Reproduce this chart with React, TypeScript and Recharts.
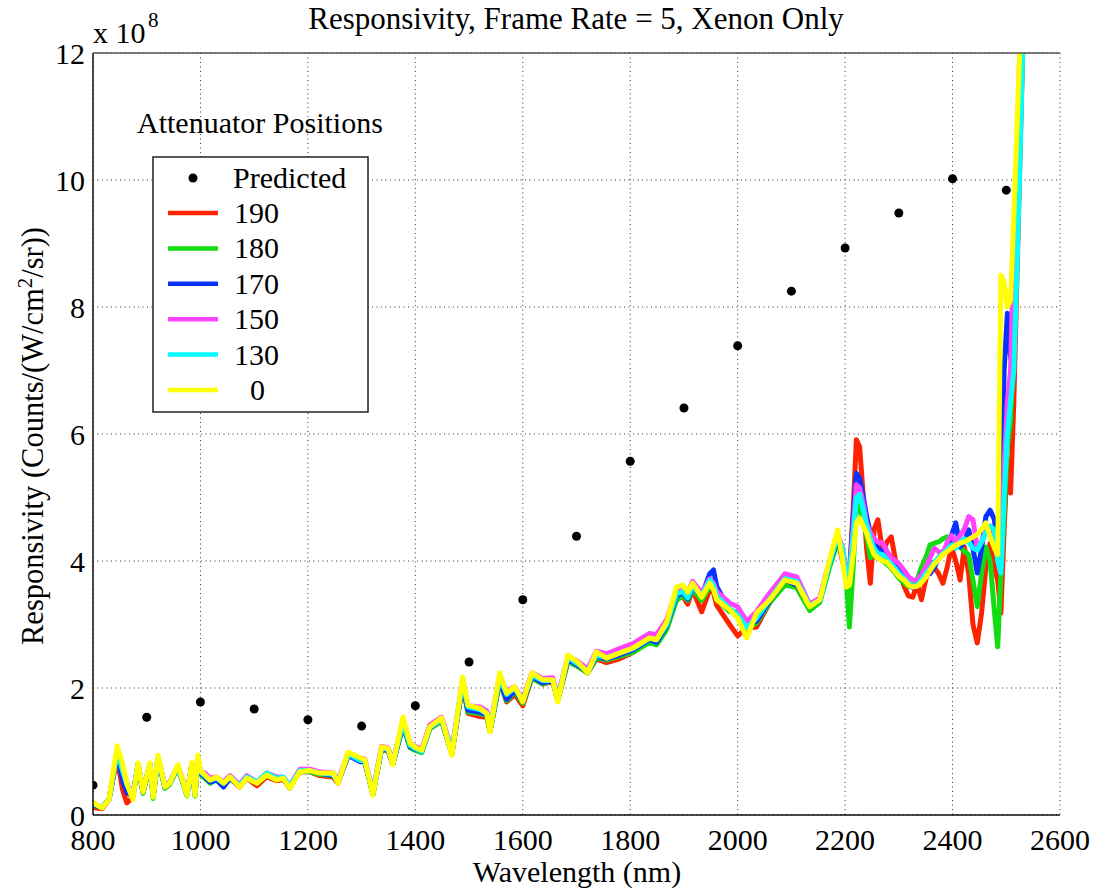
import { ComposedChart, Line, Scatter, XAxis, YAxis, CartesianGrid } from "recharts";

const FONT = '"Liberation Serif", "Times New Roman", Times, serif';

// wavelength grid (nm) shared by all attenuator curves
const WAVELENGTH = [
  800, 817, 830, 845, 855, 863, 874, 884, 893, 906, 912, 921, 934, 943, 958, 975, 984, 990, 995,
  1000, 1008, 1018, 1030, 1043, 1055, 1073, 1086, 1105, 1123, 1142, 1154, 1166, 1185, 1204, 1222,
  1247, 1256, 1275, 1297, 1306, 1321, 1337, 1349, 1358, 1377, 1390, 1399, 1412, 1427, 1449, 1468,
  1488, 1498,
  1520, 1533, 1539, 1557, 1570, 1585, 1600, 1617, 1637, 1656, 1665, 1684, 1702, 1721, 1737, 1756,
  1780, 1805, 1836, 1849, 1868, 1886, 1898, 1907, 1916, 1933, 1948, 1955, 1961, 1985, 2000, 2017,
  2035, 2060, 2088, 2110, 2134, 2153, 2171, 2186, 2195,
  2202, 2208, 2215, 2221, 2227, 2234, 2240, 2247, 2254, 2261, 2270, 2278, 2286, 2294, 2301, 2310,
  2318, 2326, 2334, 2342, 2350, 2358, 2366, 2374, 2382, 2390, 2398, 2406, 2414, 2422, 2430, 2438,
  2446, 2454, 2462, 2470, 2478, 2484, 2490, 2496, 2502, 2508, 2514, 2520, 2526, 2532,
];

// responsivity, x 1e8
const POS_190 = [
  0.12, 0.10, 0.25, 0.90, 0.40, 0.19, 0.28, 0.78, 0.36, 0.80, 0.30, 0.90, 0.44, 0.50, 0.76, 0.32, 0.80, 0.32, 0.90,
  0.66, 0.60, 0.53, 0.56, 0.48, 0.58, 0.44, 0.58, 0.46, 0.60, 0.54, 0.56, 0.44, 0.68, 0.68, 0.62, 0.60, 0.50, 0.94, 0.86,
  0.84, 0.32, 1.03, 1.02, 0.80, 1.42, 1.08, 1.04, 1.00, 1.36, 1.48, 0.96, 2.05, 1.60,
  1.55, 1.54, 1.32, 2.10, 1.78, 1.90, 1.72, 2.16, 2.06, 2.10, 1.80, 2.42, 2.34, 2.24, 2.46, 2.40, 2.46, 2.56, 2.74, 2.70,
  2.94, 3.42, 3.44, 3.32, 3.55, 3.20, 3.55, 3.50, 3.30, 3.00, 2.82, 2.95, 2.96, 3.35, 3.65, 3.60, 3.28, 3.40, 3.95, 4.35, 4.00,
  3.85, 3.80, 4.80, 5.91, 5.80, 5.00, 4.20, 3.65, 4.50, 4.65, 4.13, 4.30, 4.38, 4.00, 3.81, 3.60, 3.45, 3.43, 3.65, 3.39,
  3.70, 4.00, 3.90, 3.80, 3.65, 3.90, 4.22, 4.00, 3.70, 4.22, 3.80, 3.00, 2.71, 3.18, 3.90, 4.28, 3.90, 3.70, 3.18, 4.50,
  5.60, 5.07, 6.50, 8.50, 10.5, 12.5,
];

const POS_180 = [
  0.15, 0.12, 0.25, 0.95, 0.60, 0.40, 0.30, 0.78, 0.34, 0.78, 0.26, 0.88, 0.42, 0.48, 0.74, 0.30, 0.78, 0.30, 0.88,
  0.64, 0.58, 0.50, 0.56, 0.48, 0.58, 0.46, 0.58, 0.50, 0.62, 0.56, 0.58, 0.44, 0.68, 0.68, 0.64, 0.62, 0.52, 0.94, 0.86,
  0.84, 0.32, 1.03, 1.02, 0.80, 1.40, 1.06, 1.02, 0.98, 1.36, 1.48, 0.96, 2.05, 1.62,
  1.60, 1.56, 1.32, 2.10, 1.80, 1.94, 1.76, 2.16, 2.06, 2.12, 1.80, 2.42, 2.34, 2.24, 2.48, 2.44, 2.50, 2.56, 2.72, 2.68,
  2.92, 3.38, 3.45, 3.38, 3.55, 3.38, 3.60, 3.55, 3.40, 3.20, 3.20, 2.95, 3.02, 3.35, 3.62, 3.58, 3.22, 3.35, 3.90, 4.30, 4.10,
  3.70, 2.96, 3.90, 4.90, 4.85, 4.60, 4.40, 4.05, 4.10, 4.05, 4.00, 3.95, 3.88, 3.80, 3.72, 3.65, 3.60, 3.60, 3.70, 3.90,
  4.05, 4.25, 4.28, 4.30, 4.35, 4.38, 4.30, 4.25, 4.22, 4.15, 4.10, 3.70, 3.28, 3.80, 4.22, 4.00, 3.20, 2.65, 3.80, 4.75,
  5.80, 6.20, 7.50, 9.00, 10.8, 12.5,
];

const POS_170 = [
  0.16, 0.12, 0.25, 0.98, 0.55, 0.35, 0.30, 0.80, 0.36, 0.80, 0.30, 0.90, 0.44, 0.50, 0.76, 0.32, 0.80, 0.32, 0.90,
  0.66, 0.60, 0.52, 0.55, 0.44, 0.58, 0.46, 0.60, 0.50, 0.64, 0.56, 0.58, 0.42, 0.70, 0.70, 0.66, 0.62, 0.52, 0.94, 0.84,
  0.84, 0.34, 1.04, 1.02, 0.80, 1.42, 1.08, 1.04, 1.00, 1.38, 1.50, 0.98, 2.08, 1.65,
  1.62, 1.58, 1.34, 2.12, 1.82, 1.96, 1.78, 2.18, 2.08, 2.12, 1.82, 2.45, 2.36, 2.26, 2.50, 2.46, 2.52, 2.60, 2.76, 2.72,
  2.98, 3.45, 3.50, 3.40, 3.58, 3.45, 3.80, 3.86, 3.60, 3.22, 3.15, 2.98, 3.05, 3.38, 3.70, 3.62, 3.30, 3.38, 3.95, 4.35, 4.20,
  3.75, 3.70, 4.70, 5.38, 5.30, 5.00, 4.70, 4.45, 4.30, 4.20, 4.15, 4.08, 4.00, 3.92, 3.85, 3.75, 3.65, 3.58, 3.60, 3.80,
  3.85, 3.80, 3.90, 4.05, 4.15, 4.20, 4.40, 4.60, 4.22, 4.30, 4.49, 4.20, 3.81, 4.20, 4.70, 4.80, 4.65, 4.13, 4.50, 7.00,
  7.90, 7.20, 8.50, 10.0, 11.8, 13.5,
];

const POS_150 = [
  0.18, 0.12, 0.25, 1.00, 0.72, 0.50, 0.30, 0.80, 0.40, 0.80, 0.32, 0.90, 0.46, 0.52, 0.78, 0.34, 0.82, 0.34, 0.90,
  0.70, 0.66, 0.58, 0.60, 0.52, 0.62, 0.48, 0.62, 0.52, 0.66, 0.60, 0.60, 0.46, 0.72, 0.72, 0.68, 0.66, 0.54, 0.98, 0.90,
  0.88, 0.36, 1.08, 1.06, 0.84, 1.48, 1.14, 1.08, 1.04, 1.42, 1.54, 1.02, 2.12, 1.72,
  1.70, 1.64, 1.38, 2.18, 1.95, 2.02, 1.82, 2.24, 2.15, 2.16, 1.86, 2.50, 2.42, 2.30, 2.58, 2.54, 2.62, 2.70, 2.86, 2.84,
  3.08, 3.55, 3.60, 3.50, 3.68, 3.50, 3.72, 3.65, 3.52, 3.34, 3.28, 3.05, 3.20, 3.50, 3.80, 3.75, 3.32, 3.42, 4.00, 4.42, 4.22,
  3.85, 3.80, 4.50, 5.20, 5.15, 4.90, 4.60, 4.45, 4.35, 4.30, 4.28, 4.15, 4.05, 4.00, 3.95, 3.85, 3.75, 3.70, 3.70, 3.78,
  3.90, 4.05, 4.20, 4.15, 4.10, 4.30, 4.40, 4.30, 4.40, 4.50, 4.70, 4.65, 4.20, 4.30, 4.50, 4.55, 4.40, 4.20, 4.00, 5.50,
  6.50, 7.00, 9.00, 10.5, 12.3, 13.5,
];

const POS_130 = [
  0.18, 0.12, 0.25, 1.00, 0.70, 0.48, 0.30, 0.80, 0.38, 0.80, 0.30, 0.90, 0.45, 0.50, 0.76, 0.32, 0.80, 0.32, 0.90,
  0.68, 0.62, 0.55, 0.58, 0.50, 0.60, 0.46, 0.60, 0.52, 0.66, 0.58, 0.60, 0.45, 0.70, 0.70, 0.66, 0.64, 0.52, 0.96, 0.86,
  0.86, 0.34, 1.05, 1.04, 0.82, 1.45, 1.10, 1.05, 1.00, 1.38, 1.50, 1.00, 2.10, 1.70,
  1.66, 1.60, 1.35, 2.15, 1.90, 2.00, 1.80, 2.20, 2.12, 2.12, 1.82, 2.48, 2.38, 2.26, 2.52, 2.48, 2.55, 2.62, 2.78, 2.76,
  3.00, 3.48, 3.52, 3.42, 3.60, 3.45, 3.70, 3.62, 3.45, 3.25, 3.15, 2.95, 3.10, 3.40, 3.72, 3.68, 3.30, 3.38, 3.95, 4.40, 4.20,
  3.80, 3.75, 4.40, 5.00, 5.05, 4.80, 4.55, 4.35, 4.20, 4.12, 4.10, 4.02, 3.95, 3.88, 3.80, 3.72, 3.65, 3.60, 3.62, 3.70,
  3.80, 3.88, 3.98, 4.05, 4.12, 4.18, 4.25, 4.20, 4.30, 4.35, 4.30, 4.20, 4.17, 4.30, 4.45, 4.55, 4.49, 4.00, 3.81, 5.00,
  6.00, 6.50, 7.00, 8.60, 10.5, 12.5,
];

const POS_0 = [
  0.20, 0.11, 0.25, 1.09, 0.80, 0.50, 0.24, 0.82, 0.36, 0.82, 0.28, 0.94, 0.44, 0.50, 0.79, 0.31, 0.83, 0.31, 0.94,
  0.70, 0.63, 0.55, 0.60, 0.50, 0.60, 0.44, 0.58, 0.50, 0.63, 0.55, 0.58, 0.42, 0.68, 0.70, 0.66, 0.66, 0.50, 0.99, 0.90,
  0.87, 0.31, 1.07, 1.05, 0.79, 1.54, 1.13, 1.07, 1.02, 1.39, 1.53, 0.94, 2.17, 1.73,
  1.68, 1.60, 1.31, 2.24, 1.92, 2.02, 1.78, 2.24, 2.13, 2.13, 1.78, 2.52, 2.41, 2.24, 2.57, 2.47, 2.55, 2.63, 2.79, 2.76,
  3.04, 3.59, 3.62, 3.51, 3.65, 3.43, 3.65, 3.55, 3.39, 3.23, 3.10, 2.79, 3.18, 3.39, 3.70, 3.65, 3.28, 3.39, 4.02, 4.49, 4.02,
  3.59, 3.62, 4.10, 4.60, 4.68, 4.55, 4.44, 4.25, 4.10, 4.05, 4.00, 3.98, 3.90, 3.82, 3.75, 3.70, 3.62, 3.59, 3.60, 3.66,
  3.74, 3.85, 3.95, 4.02, 4.10, 4.15, 4.20, 4.25, 4.28, 4.30, 4.34, 4.38, 4.42, 4.50, 4.60, 4.38, 4.20, 4.10, 8.50, 8.40,
  8.00, 8.10, 9.40, 10.8, 12.3, 13.5,
];

const PREDICTED_WL = [800, 900, 1000, 1100, 1200, 1300, 1400, 1500, 1600, 1700, 1800, 1900, 2000, 2100, 2200, 2300, 2400, 2500];
const PREDICTED = [0.47, 1.54, 1.78, 1.67, 1.50, 1.40, 1.72, 2.41, 3.39, 4.39, 5.57, 6.41, 7.39, 8.25, 8.93, 9.48, 10.02, 9.84];

const X_TICKS = [800, 1000, 1200, 1400, 1600, 1800, 2000, 2200, 2400, 2600];
const Y_TICKS = [0, 2, 4, 6, 8, 10, 12];

const SERIES = [
  { key: "p190", label: "190", color: "#ff2200", values: POS_190 },
  { key: "p180", label: "180", color: "#11dd11", values: POS_180 },
  { key: "p170", label: "170", color: "#0a32ff", values: POS_170 },
  { key: "p150", label: "150", color: "#ff44ff", values: POS_150 },
  { key: "p130", label: "130", color: "#00ffff", values: POS_130 },
  { key: "p0", label: "0", color: "#ffff00", values: POS_0 },
];

const tickFont = { fill: "#000", fontSize: 30, fontFamily: FONT };

export default function App() {
  const rows = WAVELENGTH.map((wl, i) => {
    const row: Record<string, number> = { wl };
    SERIES.forEach((s) => {
      row[s.key] = s.values[i];
    });
    return row;
  });
  const predicted = PREDICTED_WL.map((wl, i) => ({ wl, pred: PREDICTED[i] }));

  return (
    <div style={{ position: "absolute", left: 0, top: 0, width: 1097, height: 892, background: "#fff" }}>
      <ComposedChart width={1097} height={892} data={rows} margin={{ top: 53, right: 37, bottom: 0, left: 0 }}>
        <CartesianGrid stroke="#333" strokeDasharray="1 3.5" />
        <XAxis
          dataKey="wl"
          type="number"
          domain={[800, 2600]}
          ticks={X_TICKS}
          interval={0}
          allowDataOverflow
          height={77}
          tickLine={false}
          tickSize={0}
          tickMargin={14}
          axisLine={{ stroke: "#111", strokeWidth: 1.5 }}
          tick={tickFont}
        />
        <YAxis
          type="number"
          domain={[0, 12]}
          ticks={Y_TICKS}
          interval={0}
          allowDataOverflow
          width={93}
          tickLine={false}
          tickSize={0}
          tickMargin={8}
          axisLine={{ stroke: "#111", strokeWidth: 1.5 }}
          tick={tickFont}
        />
        {/* inward tick marks + box, matlab style */}
        <XAxis xAxisId="bt" orientation="bottom" mirror type="number" domain={[800, 2600]} ticks={X_TICKS}
          interval={0} allowDataOverflow tick={false} tickSize={10} axisLine={false} tickLine={{ stroke: "#222", strokeWidth: 1.5 }} />
        <XAxis xAxisId="tp" orientation="top" mirror type="number" domain={[800, 2600]} ticks={X_TICKS}
          interval={0} allowDataOverflow tick={false} tickSize={10} axisLine={{ stroke: "#555", strokeWidth: 1.5 }} tickLine={{ stroke: "#555", strokeWidth: 1.5 }} />
        <YAxis yAxisId="lf" orientation="left" mirror type="number" domain={[0, 12]} ticks={Y_TICKS}
          interval={0} allowDataOverflow tick={false} tickSize={10} width={0} axisLine={false} tickLine={{ stroke: "#222", strokeWidth: 1.5 }} />
        <YAxis yAxisId="rt" orientation="right" mirror type="number" domain={[0, 12]} ticks={Y_TICKS}
          interval={0} allowDataOverflow tick={false} tickSize={10} width={0} axisLine={{ stroke: "#555", strokeWidth: 1.5 }} tickLine={{ stroke: "#555", strokeWidth: 1.5 }} />

        <Scatter
          data={predicted}
          dataKey="pred"
          isAnimationActive={false}
          shape={(p: any) => <circle cx={p.cx} cy={p.cy} r={4.5} fill="#000" />}
        />
        {SERIES.map((s) => (
          <Line
            key={s.key}
            dataKey={s.key}
            type="linear"
            stroke={s.color}
            strokeWidth={5}
            strokeLinejoin="round"
            dot={false}
            activeDot={false}
            isAnimationActive={false}
          />
        ))}
      </ComposedChart>

      <svg width={1097} height={892} style={{ position: "absolute", left: 0, top: 0, pointerEvents: "none" }} fontFamily={FONT}>
        <text x={576} y={29} textAnchor="middle" fontSize={31}>Responsivity, Frame Rate = 5, Xenon Only</text>
        <text x={93} y={43} fontSize={30}>x 10</text>
        <text x={148} y={27} fontSize={21}>8</text>
        <text x={577} y={882} textAnchor="middle" fontSize={30}>Wavelength (nm)</text>
        <text transform="translate(43,436) rotate(-90)" textAnchor="middle" fontSize={30.5}>
          Responsivity (Counts/(W/cm<tspan dy={-11} fontSize={21}>2</tspan><tspan dy={11}>/sr))</tspan>
        </text>
        <text x={137} y={133} fontSize={30}>Attenuator Positions</text>
        <rect x={153} y={157} width={215} height={255} fill="#fff" stroke="#222" strokeWidth={1.5} />
        <circle cx={193} cy={178} r={4.5} fill="#000" />
        <text x={233} y={188} fontSize={30}>Predicted</text>
        {SERIES.map((s, i) => {
          const cy = 213 + i * 35.4;
          return (
            <g key={s.key}>
              <line x1={168} x2={218} y1={cy} y2={cy} stroke={s.color} strokeWidth={4.5} />
              <text x={s.label === "0" ? 250 : 234} y={cy + 10} fontSize={30}>{s.label}</text>
            </g>
          );
        })}
      </svg>
    </div>
  );
}
